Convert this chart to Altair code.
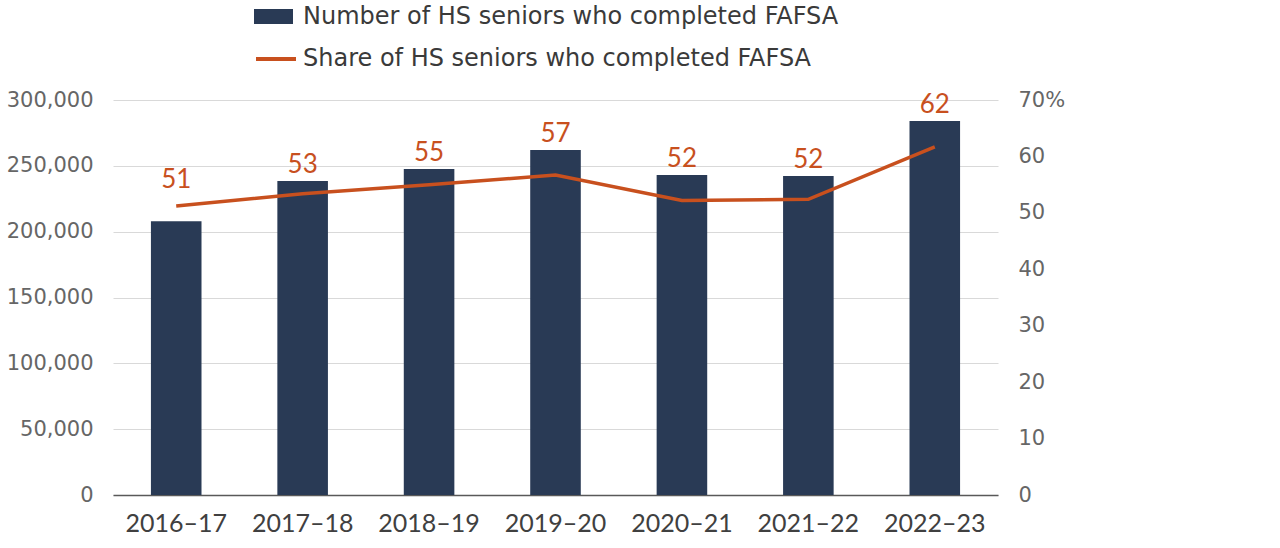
import altair as alt
import pandas as pd

# School years and FAFSA completion figures
years = ["2016–17", "2017–18", "2018–19", "2019–20", "2020–21", "2021–22", "2022–23"]
completed = [208000, 238500, 247600, 262000, 243000, 242300, 284000]
share_pct = [51.2, 53.4, 55.0, 56.7, 52.2, 52.4, 61.7]

BAR_LABEL = "Number of HS seniors who completed FAFSA"
LINE_LABEL = "Share of HS seniors who completed FAFSA"

BAR_COLOR = "#293A55"
LINE_COLOR = "#C8501E"
FONT = "Lato"
WIDE_FONT = "DejaVu Sans"
COUNT_MAX = 300000
SHARE_MAX = 70

df = pd.DataFrame({"year": years, "completed": completed, "share": share_pct})

x = alt.X(
    "year:N",
    sort=years,
    title=None,
    scale=alt.Scale(paddingInner=0.6, paddingOuter=0.3),
    axis=alt.Axis(
        labelAngle=0,
        labelFont=FONT,
        labelFontSize=25,
        labelColor="#404040",
        labelPadding=16,
        ticks=False,
        domainColor="#595959",
        domainWidth=1.5,
    ),
)

count_scale = alt.Scale(domain=[0, COUNT_MAX], nice=False)
count_axis = alt.Axis(
    values=list(range(0, COUNT_MAX + 1, 50000)),
    labelExpr="format(datum.value, ',')",
    labelFont=WIDE_FONT,
    labelFontSize=21,
    labelColor="#666666",
    labelPadding=20,
    ticks=False,
    domain=False,
    gridColor="#d9d9d9",
    gridWidth=1,
)

legend_common = dict(
    orient="none",
    legendX=141,
    title=None,
    labelFont=WIDE_FONT,
    labelFontSize=24,
    labelColor="#3a3a3a",
    labelLimit=0,
    padding=0,
)

bars = (
    alt.Chart(df)
    .transform_calculate(series=f"'{BAR_LABEL}'")
    .mark_bar(color=BAR_COLOR)
    .encode(
        x=x,
        y=alt.Y("completed:Q", scale=count_scale, title=None, axis=count_axis),
        fill=alt.Fill(
            "series:N",
            scale=alt.Scale(domain=[BAR_LABEL], range=[BAR_COLOR]),
            legend=alt.Legend(
                legendY=-103,
                symbolType="M-1,-0.385H1V0.385H-1Z",
                symbolSize=1521,
                symbolStrokeWidth=0,
                symbolOpacity=1,
                labelOffset=10,
                **legend_common,
            ),
        ),
    )
)

# Value labels sit just above whichever is higher: the bar top or the line point
labels = (
    alt.Chart(df)
    .transform_calculate(
        label_y=f"max(datum.completed, datum.share * {COUNT_MAX} / {SHARE_MAX} + 7600)"
    )
    .mark_text(
        color=LINE_COLOR,
        font=FONT,
        fontSize=26,
        baseline="alphabetic",
        dy=-8,
    )
    .encode(
        x=x,
        y=alt.Y("label_y:Q", scale=count_scale, title=None, axis=count_axis),
        text=alt.Text("share:Q", format=".0f"),
    )
)

line = (
    alt.Chart(df)
    .transform_calculate(series=f"'{LINE_LABEL}'")
    .mark_line(strokeWidth=3.5, color=LINE_COLOR)
    .encode(
        x=x,
        y=alt.Y(
            "share:Q",
            scale=alt.Scale(domain=[0, SHARE_MAX], nice=False),
            title=None,
            axis=alt.Axis(
                orient="right",
                values=list(range(0, SHARE_MAX + 1, 10)),
                labelExpr=f"datum.value == {SHARE_MAX} ? datum.label + '%' : datum.label",
                labelFont=WIDE_FONT,
                labelFontSize=21,
                labelColor="#666666",
                labelPadding=20,
                ticks=False,
                domain=False,
                grid=False,
            ),
        ),
        stroke=alt.Stroke(
            "series:N",
            scale=alt.Scale(domain=[LINE_LABEL], range=[LINE_COLOR]),
            legend=alt.Legend(
                legendY=-63,
                symbolType="stroke",
                symbolSize=1600,
                symbolStrokeWidth=4,
                labelOffset=5,
                **legend_common,
            ),
        ),
    )
)

chart = (
    alt.layer(alt.layer(bars, labels), line)
    .resolve_scale(y="independent")
    .properties(
        width=885,
        height=395,
        autosize=alt.AutoSizeParams(type="none"),
        padding={"left": 113, "top": 100, "right": 282, "bottom": 53},
        background="white",
    )
    .configure_view(stroke=None)
)

chart.save("out.html", embed_options={"renderer": "svg", "actions": False})
